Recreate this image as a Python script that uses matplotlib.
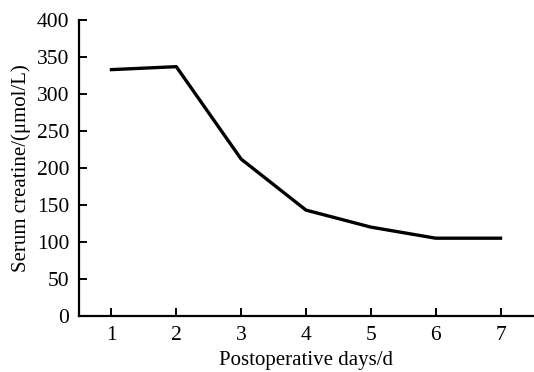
import matplotlib
matplotlib.use("Agg")
from matplotlib import pyplot as plt

days = [1, 2, 3, 4, 5, 6, 7]
creatinine = [333, 337, 212, 143, 120, 105, 105]
yticks = [0, 50, 100, 150, 200, 250, 300, 350, 400]

plt.rcParams['font.family'] = ['Liberation Serif', 'DejaVu Serif']

fig = plt.figure(figsize=(5.34, 3.72), dpi=100)
ax = fig.add_axes([0.148, 0.151, 0.85, 0.795])

ax.plot(days, creatinine, color='black', linewidth=2.4)

ax.set_xlim(0.5, 7.5)
ax.set_ylim(0, 400)
ax.set_xticks(days)
ax.set_yticks(yticks)

for side in ['top', 'right']:
    ax.spines[side].set_visible(False)
for side in ['left', 'bottom']:
    ax.spines[side].set_linewidth(1.6)

ax.tick_params(direction='in', length=6, width=1.4, labelsize=15.5, pad=7)

ax.set_xlabel('Postoperative days/d', fontsize=15, labelpad=5)
ax.set_ylabel('Serum creatine/(μmol/L)', fontsize=15, labelpad=4)

fig.savefig('out.png', dpi=100)
